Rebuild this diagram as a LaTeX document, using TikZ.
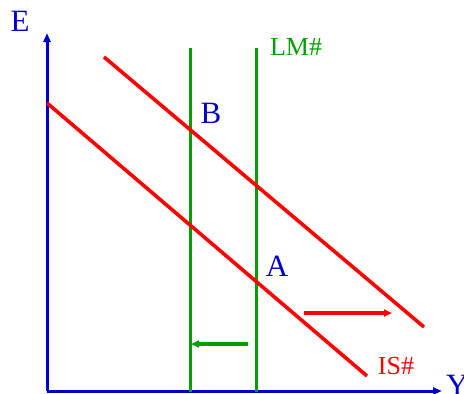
\documentclass[tikz,border=0pt]{standalone}
\usepackage{fontspec}
\setmainfont{Liberation Serif}
\usetikzlibrary{arrows.meta}
\definecolor{axisblue}{RGB}{0,0,205}
\definecolor{lmgreen}{RGB}{0,160,0}
\definecolor{isred}{RGB}{255,0,0}
\tikzset{
  axisline/.style={draw=axisblue,line width=3pt,-{Triangle[length=9pt,width=7pt]}},
  lmline/.style={draw=lmgreen,line width=3pt},
  isline/.style={draw=isred,line width=3.6pt},
  shiftred/.style={draw=isred,line width=3.2pt,-{Triangle[length=8pt,width=7pt]}},
  shiftgreen/.style={draw=lmgreen,line width=3.2pt,-{Triangle[length=8pt,width=7pt]}},
  lbl/.style={inner sep=0pt,font=\fontsize{31}{32}\selectfont},
  smalllbl/.style={inner sep=0pt,font=\fontsize{26}{27}\selectfont},
}
\begin{document}
\begin{tikzpicture}[x=1pt,y=-1pt]
\useasboundingbox (0,0) rectangle (464,394);
% axes
\coordinate (O) at (47,391);
\coordinate (Etop) at (47,33);
\coordinate (Yend) at (442,391);
\draw[axisline] (O) -- (Etop);
\draw[axisline] (O) -- (Yend);
\node[lbl,text=axisblue] (E) at (20,21) {E};
\node[lbl,text=axisblue,anchor=west] (Y) at (446,385) {Y};
% LM lines
\coordinate (lm1t) at (190,48);
\coordinate (lm1b) at (190,392);
\coordinate (lm2t) at (256,48);
\coordinate (lm2b) at (256,392);
\draw[lmline] (lm1t) -- (lm1b);
\draw[lmline] (lm2t) -- (lm2b);
\node[smalllbl,text=lmgreen] (LM) at (296,47) {LM\#};
% IS lines
\coordinate (is1a) at (47,103);
\coordinate (is1b) at (367,376);
\coordinate (is2a) at (104,57);
\coordinate (is2b) at (424,327);
\draw[isline] (is1a) -- (is1b);
\draw[isline] (is2a) -- (is2b);
\node[smalllbl,text=isred] (IS) at (396,366) {IS\#};
% points
\node[lbl,text=axisblue] (B) at (211,113) {B};
\node[lbl,text=axisblue] (A) at (277,266) {A};
% shift arrows
\coordinate (rs) at (304,313);
\coordinate (re) at (392,313);
\draw[shiftred] (rs) -- (re);
\coordinate (gs) at (248,344);
\coordinate (ge) at (191,344);
\draw[shiftgreen] (gs) -- (ge);
\end{tikzpicture}
\end{document}
